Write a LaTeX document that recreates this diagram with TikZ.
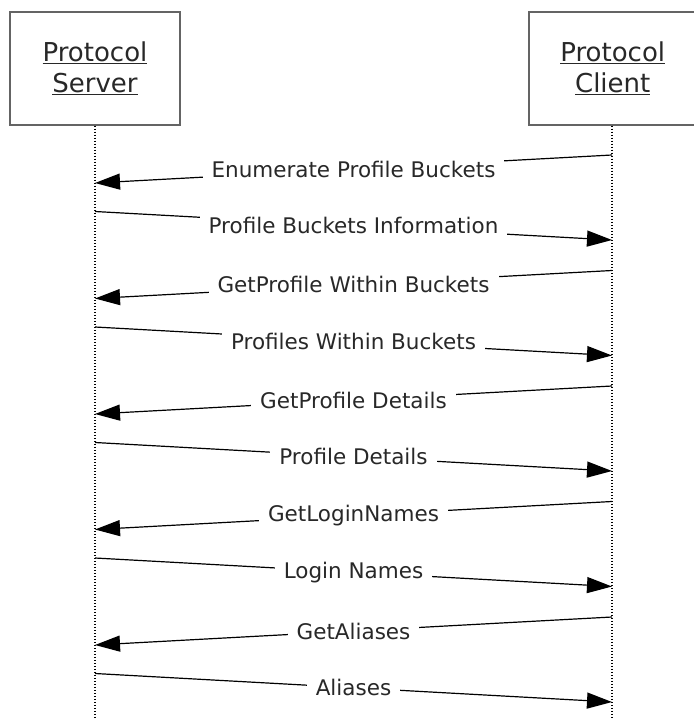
\documentclass[tikz,border=0pt]{standalone}
\usepackage{fontspec}
\setmainfont{DejaVu Sans}
\usetikzlibrary{arrows.meta}
\definecolor{boxgray}{RGB}{100,100,100}
\definecolor{txt}{RGB}{40,40,40}
\tikzset{
  actor/.style={draw=boxgray, line width=1.5pt, fill=white, minimum height=113pt, inner sep=0pt, align=center, font=\fontsize{26}{33}\selectfont, text=txt},
  lifeline/.style={line width=1.3pt, dash pattern=on 1.5pt off 1.5pt},
  msg/.style={line width=1.2pt, -{Triangle[length=25pt,width=16pt]}},
  lbl/.style={fill=white, inner xsep=9pt, inner ysep=2pt, font=\fontsize{21.5}{25}\selectfont, text=txt, pos=0.5}
}
\begin{document}
\begin{tikzpicture}[x=1pt,y=-1pt]
\useasboundingbox (0,0) rectangle (693,719);
\node[actor, minimum width=170pt] (srv) at (95,68.5) {\underline{Protocol}\\[-2pt]\underline{Server}};
\node[actor, minimum width=176pt, anchor=west, text width=168pt] (cli) at (528,68.5) {\hspace*{-8pt}\underline{Protocol}\\[-2pt]\hspace*{-8pt}\underline{Client}};
\coordinate (srvend) at (95,719);
\coordinate (cliend) at (612,719);
\draw[lifeline] (srv.south) -- (srvend);
\draw[lifeline] (cli.south -| cliend) -- (cliend);
% messages
\foreach \i/\t in {
  0/{Enumerate Profile Buckets},
  1/{GetProfile Within Buckets},
  2/{GetProfile Details},
  3/{GetLoginNames},
  4/{GetAliases}}{
  \coordinate (m\i a) at (612,{155+115.5*\i});
  \coordinate (m\i b) at (95,{183+115.5*\i});
  \draw[msg] (m\i a) -- node[lbl]{\t} (m\i b);
}
\foreach \i/\t in {
  0/{Profile Buckets Information},
  1/{Profiles Within Buckets},
  2/{Profile Details},
  3/{Login Names},
  4/{Aliases}}{
  \coordinate (r\i a) at (95,{211.5+115.5*\i});
  \coordinate (r\i b) at (612,{240+115.5*\i});
  \draw[msg] (r\i a) -- node[lbl]{\t} (r\i b);
}
\end{tikzpicture}
\end{document}
